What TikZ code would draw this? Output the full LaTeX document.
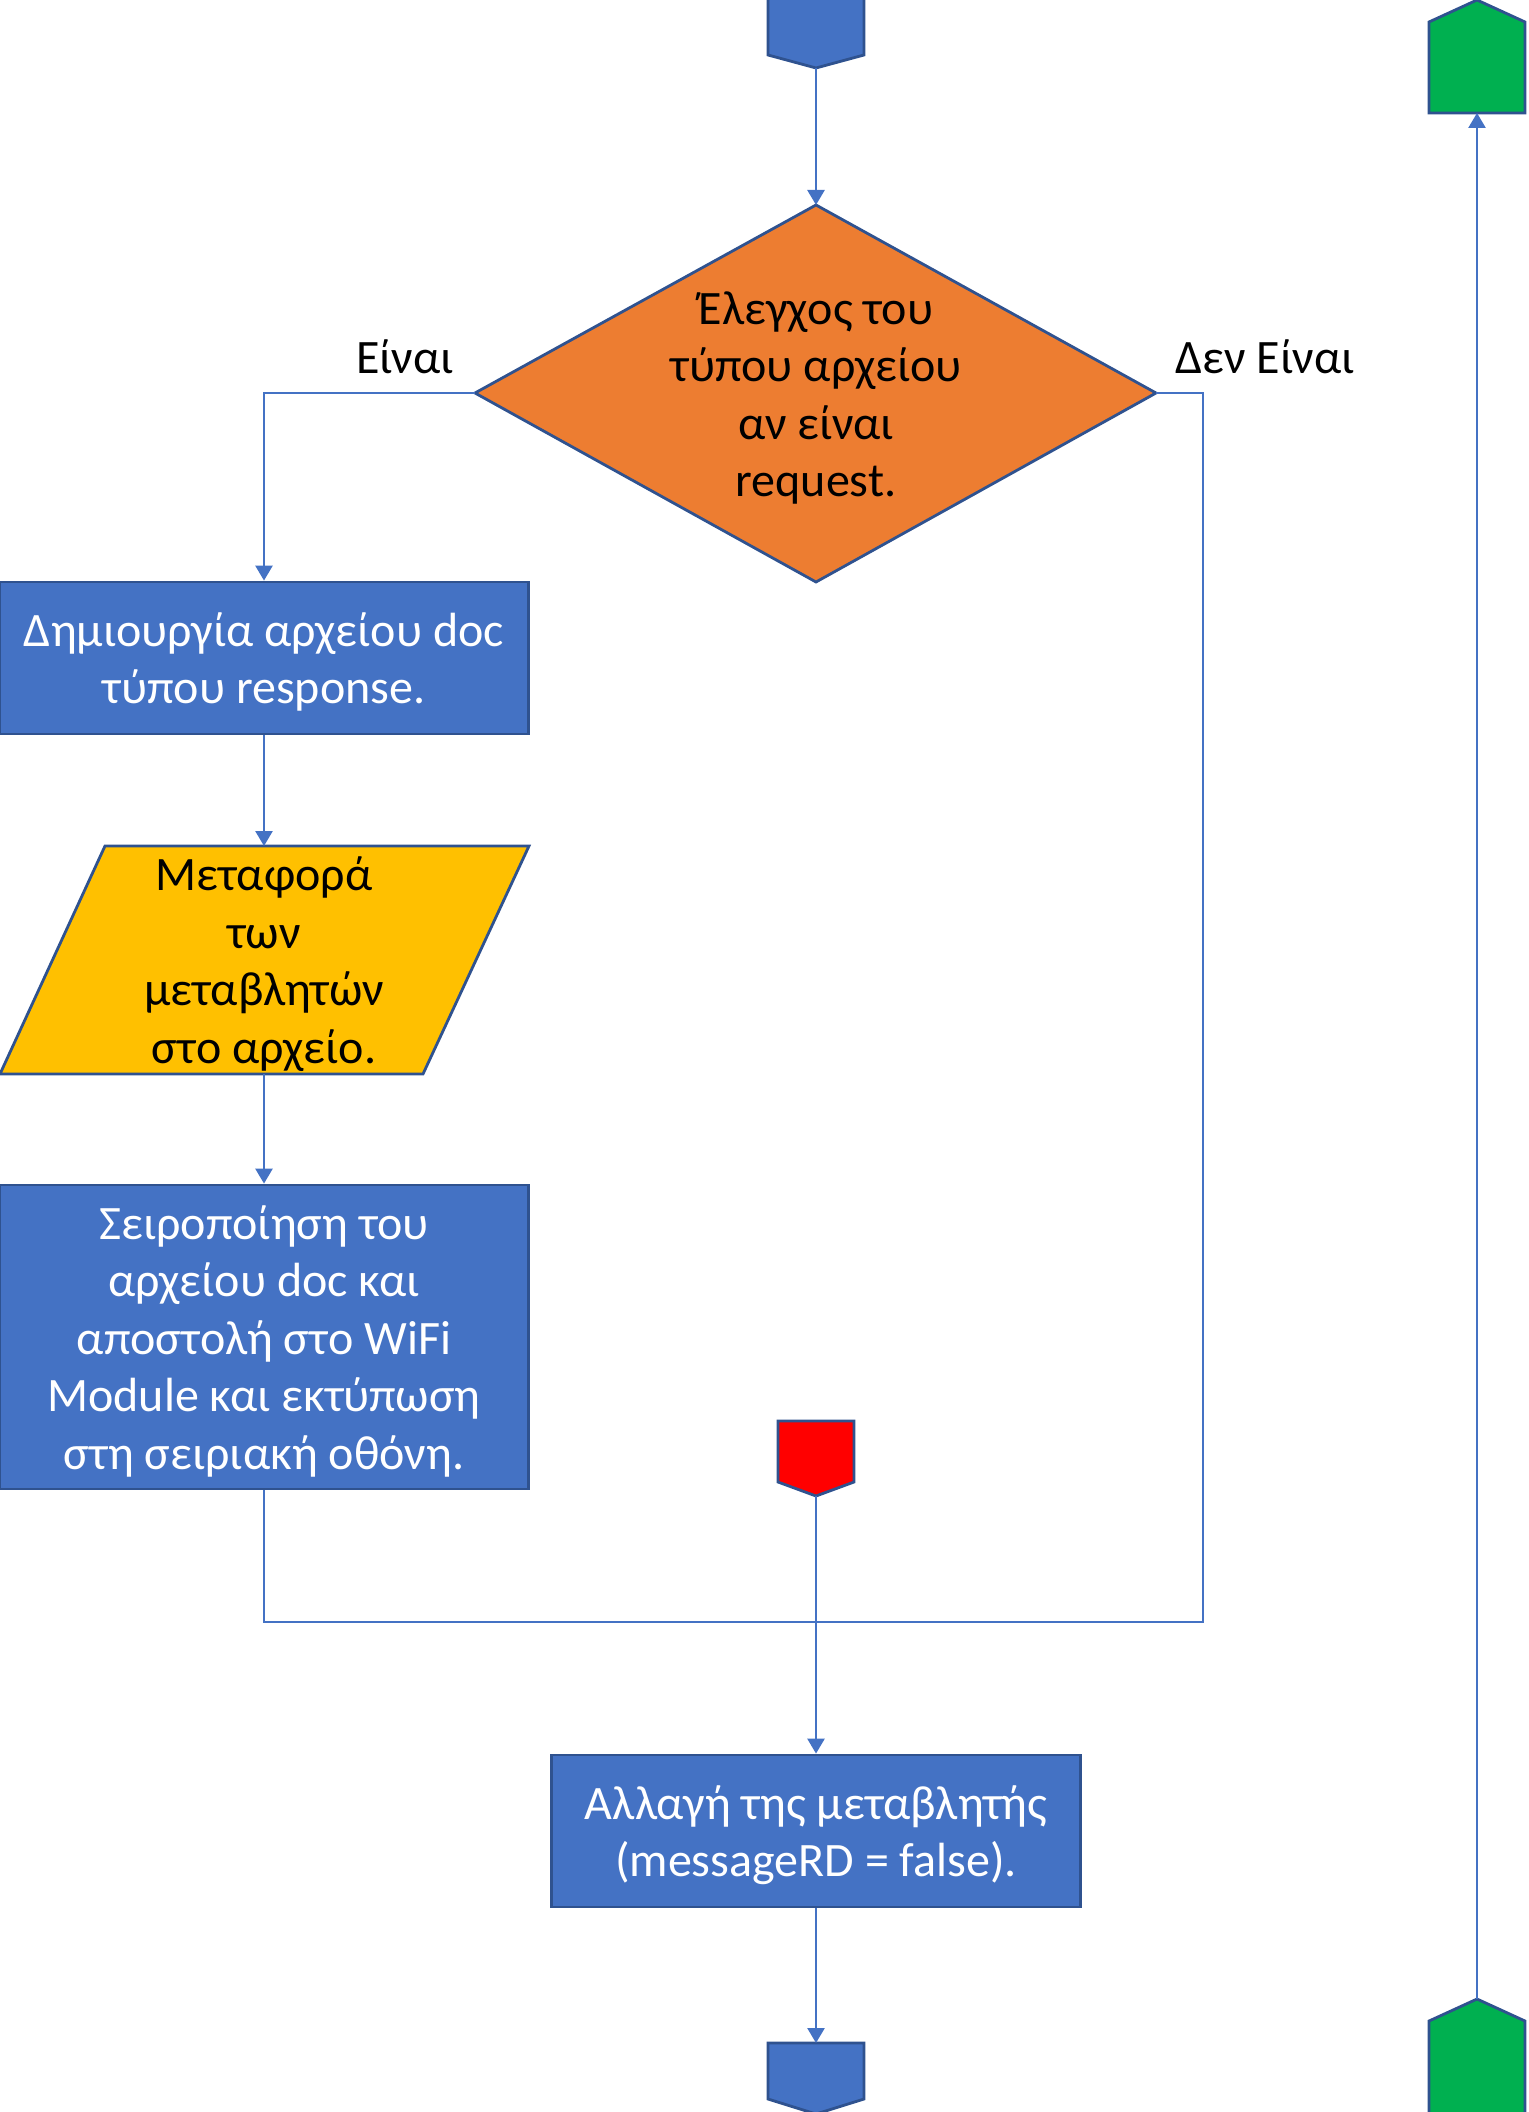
\documentclass[tikz,border=0pt]{standalone}
\usepackage{fontspec}
\setmainfont{Carlito}
\usetikzlibrary{arrows.meta,shapes.geometric}
\definecolor{officeblue}{HTML}{4472C4}
\definecolor{edgeblue}{HTML}{2F528F}
\definecolor{decorange}{HTML}{ED7D31}
\definecolor{ioyellow}{HTML}{FFC000}
\definecolor{termgreen}{HTML}{00B050}
\definecolor{stopred}{HTML}{FF0000}
\tikzset{
  shapeedge/.style={draw=edgeblue, line width=1.4pt, line join=miter},
  bluebox/.style={shapeedge, fill=officeblue, inner sep=0pt},
  txt/.style={align=center, font=\fontsize{24}{28.75}\selectfont, inner sep=0pt},
  boxtext/.style={txt, text=white},
  link/.style={draw=officeblue, line width=1.3pt},
  arrowlink/.style={link, -{Triangle[width=8.5pt,length=7.5pt]}},
}
\begin{document}
\begin{tikzpicture}[x=0.5pt,y=-0.5pt]
\useasboundingbox (0,0) rectangle (1529,2112);
\begin{scope}
\clip (0,0) rectangle (1529,2112);

% off-page connectors
\draw[shapeedge, fill=officeblue] (768,-3) -- (864,-3) -- (864,55) -- (816,68) -- (768,55) -- cycle;
\coordinate (startout) at (816,68);
\draw[shapeedge, fill=officeblue] (768,2043) -- (864,2043) -- (864,2099) -- (816,2114) -- (768,2099) -- cycle;
\coordinate (endin) at (816,2043);
\draw[shapeedge, fill=stopred] (778,1421) -- (854,1421) -- (854,1482) -- (816,1496) -- (778,1482) -- cycle;
\coordinate (redout) at (816,1496);
\draw[shapeedge, fill=termgreen] (1429,113) -- (1429,22) -- (1477,0) -- (1525,22) -- (1525,113) -- cycle;
\coordinate (greentop) at (1477,113);
\draw[shapeedge, fill=termgreen] (1429,2116) -- (1429,2021) -- (1477,1999) -- (1525,2021) -- (1525,2116);
\coordinate (greenbottom) at (1477,1999);
\end{scope}

% decision
\draw[shapeedge, fill=decorange] (816,205) -- (1156,393) -- (816,582) -- (475,393) -- cycle;
\coordinate (dn) at (816,205);
\coordinate (dw) at (475,393);
\coordinate (de) at (1156,393);
\node[txt] (dtext) at (816,398) {Έλεγχος του\\τύπου αρχείου\\αν είναι\\request.};

% process boxes
\node[bluebox, minimum width=264.5pt, minimum height=76pt] (create) at (264,658) {};
\node[boxtext] (createtext) at ([yshift=-2pt]create.center)
  {Δημιουργία αρχείου doc\\τύπου response.};
\node[bluebox, minimum width=264.5pt, minimum height=152pt] (serial) at (264,1337) {};
\node[boxtext] (serialtext) at ([yshift=-2pt]serial.center)
  {Σειροποίηση του\\αρχείου doc και\\αποστολή στο WiFi\\Module και εκτύπωση\\στη σειριακή οθόνη.};
\node[bluebox, minimum width=264.5pt, minimum height=76pt] (change) at (816,1831) {};
\node[boxtext] (changetext) at ([yshift=-2pt]change.center)
  {Αλλαγή της μεταβλητής\\(messageRD = false).};

% input/output
\draw[shapeedge, fill=ioyellow] (105,846) -- (529,846) -- (423,1074) -- (0,1074) -- cycle;
\coordinate (ptop) at (264,846);
\coordinate (pbot) at (264,1074);
\node[txt] (ptext) at (264,964) {Μεταφορά\\των\\μεταβλητών\\στο αρχείο.};

% branch labels
\node[txt] (yes) at (405,357) {Είναι};
\node[txt] (no) at (1265,357) {Δεν Είναι};

% connectors
\coordinate (merge) at (816,1622);
\draw[arrowlink] (startout) -- (dn);
\draw[arrowlink] (dw) -| (create.north);
\draw[arrowlink] (create.south) -- (ptop);
\draw[arrowlink] (pbot) -- (serial.north);
\draw[link] (serial.south) |- (merge);
\draw[link] (de) -- (1203,393) |- (merge);
\draw[arrowlink] (redout) -- (change.north);
\draw[arrowlink] (change.south) -- (endin);
\draw[arrowlink] (greenbottom) -- (greentop);
\end{tikzpicture}
\end{document}
